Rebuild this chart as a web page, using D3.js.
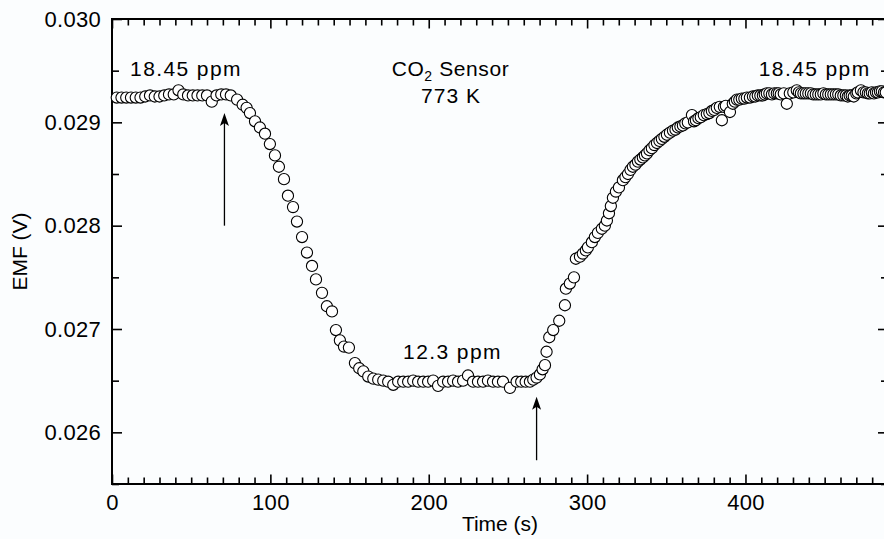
<!DOCTYPE html>
<html>
<head>
<meta charset="utf-8">
<script src="https://cdn.jsdelivr.net/npm/d3@7"></script>
<style>
  html, body { margin: 0; padding: 0; background: #fbfdfe; }
  svg { display: block; font-family: "Liberation Sans", Arial, Helvetica, sans-serif; }
</style>
</head>
<body>
<div id="chart"></div>
<script>
// EMF readings [time (s), EMF (V)], split by phase of the run
const baseline = [
  [3, 0.02924], [6, 0.02924], [9, 0.02924], [12, 0.02924], [15, 0.02924], [18, 0.02924],
  [21, 0.02925], [24, 0.02926], [27, 0.02925], [30, 0.02925], [33, 0.02926], [36, 0.02927],
  [39, 0.02927], [42, 0.02931], [45, 0.02927], [48, 0.02926], [51, 0.02926], [54, 0.02926],
  [57, 0.02926], [60, 0.02926], [63, 0.02920], [66, 0.02926], [69, 0.02927], [72, 0.02927],
  [75, 0.02926]
];
const fall = [
  [79.0, 0.02922], [82.5, 0.02917], [85.0, 0.02914], [87.1, 0.02909], [90.3, 0.02901],
  [93.4, 0.02895], [96.6, 0.02889], [99.7, 0.02879], [102.9, 0.02868], [105.4, 0.02857],
  [108.6, 0.02845], [111.1, 0.02829], [114.3, 0.02818], [116.8, 0.02804], [120.0, 0.02789],
  [123.1, 0.02774], [126.3, 0.02761], [128.8, 0.02748], [132.6, 0.02735], [135.7, 0.02722],
  [138.9, 0.02717], [141.4, 0.02699], [143.9, 0.02689], [146.5, 0.02683], [149.6, 0.02682],
  [153.4, 0.02667], [156.1, 0.02662], [158.7, 0.02659], [161.8, 0.02654], [165.0, 0.02652],
  [168.1, 0.02651], [171.3, 0.02650], [174.4, 0.02649], [177.6, 0.02646]
];
const low = [
  [180.7, 0.02649], [183.9, 0.02649], [187.0, 0.02649], [190.2, 0.02650], [193.3, 0.02649],
  [196.5, 0.02649], [199.6, 0.02649], [202.8, 0.02650], [205.9, 0.02645], [209.1, 0.02649],
  [212.2, 0.02649], [215.4, 0.02650], [218.5, 0.02649], [221.7, 0.02650], [224.8, 0.02655],
  [228.0, 0.02649], [231.1, 0.02649], [234.3, 0.02649], [237.4, 0.02650], [240.6, 0.02649],
  [243.7, 0.02649], [246.9, 0.02649], [251.3, 0.02643], [255.5, 0.02649], [258.4, 0.02649],
  [261.2, 0.02649], [263.9, 0.02649]
];
const rise = [
  [266.0, 0.02651], [268.1, 0.02653], [270.2, 0.02656], [271.9, 0.02661], [273.4, 0.02665],
  [274.4, 0.02678], [276.1, 0.02692], [278.6, 0.02699], [282.4, 0.02708], [286.0, 0.02723],
  [286.6, 0.02739], [289.1, 0.02744], [291.7, 0.02750], [292.9, 0.02768], [295.5, 0.02770],
  [297.3, 0.02773], [299.2, 0.02776], [300.5, 0.02779], [303.0, 0.02784], [304.9, 0.02789],
  [306.8, 0.02793], [309.3, 0.02797], [311.2, 0.02800], [312.5, 0.02805], [313.8, 0.02812],
  [315.0, 0.02819], [316.3, 0.02827], [318.2, 0.02833], [320.1, 0.02837], [322.6, 0.02844],
  [324.2, 0.02847], [325.8, 0.02850], [327.4, 0.02854], [328.9, 0.02857], [330.5, 0.02859],
  [332.1, 0.02862], [333.6, 0.02864], [335.2, 0.02866], [336.5, 0.02868], [337.8, 0.02870],
  [339.4, 0.02873], [340.9, 0.02875], [342.5, 0.02878], [344.1, 0.02880], [345.7, 0.02882],
  [347.2, 0.02884], [348.8, 0.02886], [350.4, 0.02888], [352.3, 0.02890], [354.2, 0.02892],
  [355.8, 0.02893], [357.3, 0.02895], [358.9, 0.02896], [360.5, 0.02897], [362.0, 0.02899],
  [363.6, 0.02900], [366.2, 0.02907], [367.5, 0.02901], [368.7, 0.02902], [370.3, 0.02904],
  [371.8, 0.02905], [373.7, 0.02907], [375.6, 0.02908], [377.2, 0.02909], [378.8, 0.02911],
  [380.3, 0.02912], [381.9, 0.02914], [383.8, 0.02915], [385.1, 0.02902], [386.4, 0.02915],
  [387.6, 0.02916], [390.2, 0.02910], [392.0, 0.02918], [393.3, 0.02920], [394.6, 0.02922],
  [396.1, 0.02922], [397.7, 0.02923], [399.3, 0.02923], [400.9, 0.02924], [402.8, 0.02924],
  [404.7, 0.02925], [406.2, 0.02925], [407.8, 0.02926], [409.4, 0.02926], [411.0, 0.02926],
  [412.2, 0.02927], [413.5, 0.02928], [415.1, 0.02928], [416.7, 0.02927], [418.2, 0.02928],
  [419.8, 0.02928], [421.0, 0.02928], [422.3, 0.02927], [424.2, 0.02928], [426.1, 0.02918],
  [428.0, 0.02928], [430.2, 0.02929], [432.4, 0.02931], [433.7, 0.02929], [435.0, 0.02928],
  [436.6, 0.02928], [438.1, 0.02928], [439.7, 0.02928], [441.3, 0.02928], [442.8, 0.02927],
  [444.4, 0.02927], [446.0, 0.02927], [447.6, 0.02927], [449.2, 0.02928], [450.8, 0.02927],
  [452.3, 0.02927], [453.9, 0.02927], [455.5, 0.02927], [457.1, 0.02927], [458.6, 0.02927],
  [460.2, 0.02926], [461.8, 0.02926], [463.4, 0.02926], [464.6, 0.02925], [465.8, 0.02926],
  [467.1, 0.02926], [468.4, 0.02925], [470.0, 0.02928], [470.9, 0.02929], [472.9, 0.02931],
  [474.5, 0.02929], [476.0, 0.02929], [477.3, 0.02928], [478.5, 0.02928], [479.8, 0.02929],
  [481.1, 0.02928], [482.4, 0.02929], [483.6, 0.02929], [484.9, 0.02930], [486.1, 0.02930],
  [487.5, 0.02929], [488.6, 0.02929]
];

// axis ticks
const xMajorTicks = [0, 100, 200, 300, 400];
const xMinorTicks = d3.range(10, 490, 10).filter(t => t % 100 !== 0);
const yMajorTicks = [0.026, 0.027, 0.028, 0.029, 0.030];
const yMinorTicks = [0.0255, 0.0265, 0.0275, 0.0285, 0.0295];

// annotations: [time, emf] anchors
const gasLabels = [
  { text: '18.45 ppm', t: 11.4, v: 0.029445, anchor: 'start' },
  { text: '18.45 ppm', t: 479.0, v: 0.029445, anchor: 'end' },
  { text: '12.3 ppm', t: 215.0, v: 0.026710, anchor: 'middle' }
];
const arrows = [
  { t: 71.0, from: 0.02800, to: 0.02909 },
  { t: 268.1, from: 0.02573, to: 0.026344 }
];

const width = 884, height = 539;
const margin = { left: 112, right: 888, top: 19, bottom: 484 };

const svg = d3.select('#chart').append('svg')
  .attr('width', width)
  .attr('height', height);

const x = d3.scaleLinear().domain([0, 490]).range([margin.left, margin.right]);
const y = d3.scaleLinear().domain([0.0255, 0.030]).range([margin.bottom, margin.top]);

const fontSize = 21;

// inward ticks on all four sides
function tickAxis(axis, values, size, tx, ty, labels) {
  const g = svg.append('g')
    .attr('transform', `translate(${tx},${ty})`)
    .call(axis.tickValues(values).tickSize(-size).tickPadding(labels ? 10 : 0)
      .tickFormat(labels ? labels : ''));
  g.select('.domain').remove();
  g.selectAll('.tick line').attr('stroke', '#000').attr('stroke-width', 1.6);
  g.selectAll('.tick text').attr('font-size', 22).attr('fill', '#000')
    .attr('letter-spacing', 0.3)
    .attr('font-family', '"Liberation Sans", Arial, sans-serif');
  return g;
}

tickAxis(d3.axisBottom(x), xMinorTicks, 6.5, 0, margin.bottom);
tickAxis(d3.axisBottom(x), xMajorTicks, 9.5, 0, margin.bottom, d3.format('d'));
tickAxis(d3.axisTop(x), xMinorTicks, 6.5, 0, margin.top);
tickAxis(d3.axisTop(x), xMajorTicks, 9.5, 0, margin.top);
tickAxis(d3.axisLeft(y), yMinorTicks, 7, margin.left, 0);
const yl = tickAxis(d3.axisLeft(y), yMajorTicks, 10, margin.left, 0, d3.format('.3f'));
yl.selectAll('.tick text').attr('x', -11);
tickAxis(d3.axisRight(y), yMinorTicks, 7, margin.right, 0);
tickAxis(d3.axisRight(y), yMajorTicks, 10, margin.right, 0);

// frame
svg.append('rect')
  .attr('x', margin.left).attr('y', margin.top)
  .attr('width', margin.right - margin.left).attr('height', margin.bottom - margin.top)
  .attr('fill', 'none').attr('stroke', '#000').attr('stroke-width', 2);

// data points
const readings = baseline.concat(fall, low, rise);
svg.append('g')
  .selectAll('circle')
  .data(readings)
  .enter()
  .append('circle')
  .attr('cx', d => x(d[0]))
  .attr('cy', d => y(d[1]))
  .attr('r', 5.6)
  .attr('fill', '#fff')
  .attr('stroke', '#000')
  .attr('stroke-width', 1.1);

// arrows marking gas switches
arrows.forEach(a => {
  const ax = x(a.t), y0 = y(a.from), y1 = y(a.to);
  svg.append('line')
    .attr('x1', ax).attr('x2', ax)
    .attr('y1', y0).attr('y2', y1 + 8)
    .attr('stroke', '#000').attr('stroke-width', 1.3);
  svg.append('path')
    .attr('d', `M${ax},${y1} L${ax - 4.5},${y1 + 13} L${ax},${y1 + 10} L${ax + 4.5},${y1 + 13} Z`)
    .attr('fill', '#000');
});

// concentration labels
svg.selectAll('.gas-label')
  .data(gasLabels)
  .enter()
  .append('text')
  .attr('class', 'gas-label')
  .attr('x', d => x(d.t))
  .attr('y', d => y(d.v))
  .attr('text-anchor', d => d.anchor)
  .attr('font-size', fontSize)
  .attr('letter-spacing', 1.4)
  .text(d => d.text);

// title block
const title = svg.append('text')
  .attr('x', 450.5)
  .attr('y', 76)
  .attr('text-anchor', 'middle')
  .attr('font-size', fontSize)
  .attr('letter-spacing', 0.6);
title.append('tspan').text('CO');
title.append('tspan').attr('font-size', 14).attr('dy', 5).text('2');
title.append('tspan').attr('dy', -5).text(' Sensor');

svg.append('text')
  .attr('x', 451)
  .attr('y', 103)
  .attr('text-anchor', 'middle')
  .attr('font-size', fontSize)
  .attr('letter-spacing', 1.0)
  .text('773 K');

// axis titles
svg.append('text')
  .attr('x', (margin.left + margin.right) / 2)
  .attr('y', 531)
  .attr('text-anchor', 'middle')
  .attr('font-size', fontSize)
  .text('Time (s)');

svg.append('text')
  .attr('transform', `translate(27,${(margin.top + margin.bottom) / 2}) rotate(-90)`)
  .attr('text-anchor', 'middle')
  .attr('font-size', fontSize)
  .text('EMF (V)');
</script>
</body>
</html>
